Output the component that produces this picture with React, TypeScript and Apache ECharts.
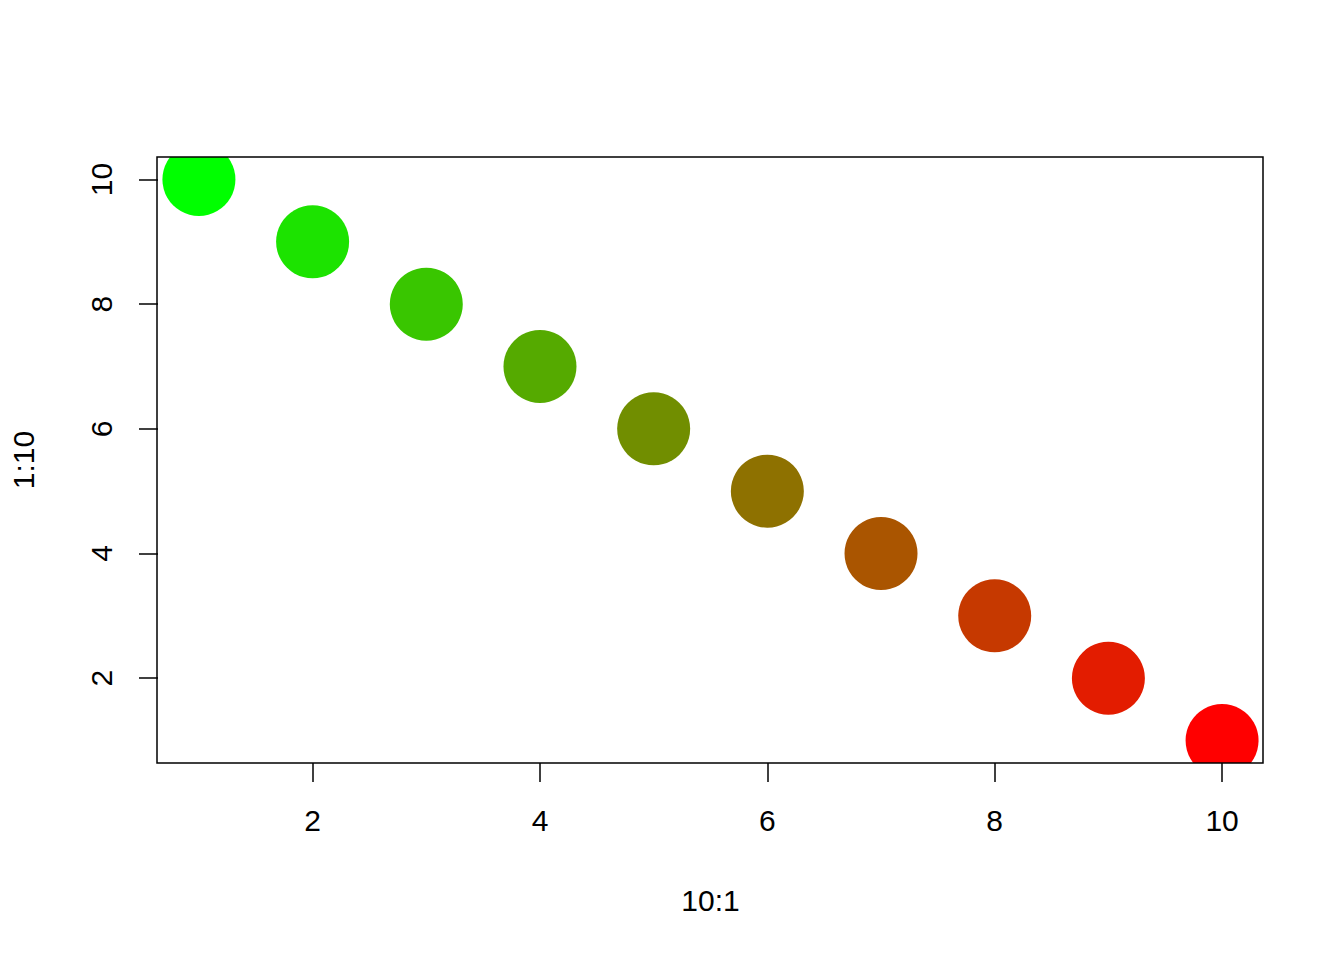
import React, { useEffect, useRef } from "react";
import * as echarts from "echarts";

const xValues = [1, 2, 3, 4, 5, 6, 7, 8, 9, 10];
const yValues = [10, 9, 8, 7, 6, 5, 4, 3, 2, 1];
const pointColors = [
  "#00FF00", "#1CE300", "#39C600", "#55AA00", "#718E00",
  "#8E7100", "#AA5500", "#C63900", "#E31C00", "#FF0000",
];
const xTicks = [2, 4, 6, 8, 10];
const yTicks = [2, 4, 6, 8, 10];
const xTitle = "10:1";
const yTitle = "1:10";

const FONT = "'Liberation Sans', Arial, Helvetica, sans-serif";
const GRID = { left: 157, top: 157, width: 1106, height: 606 };

export default function App() {
  const ref = useRef<HTMLDivElement>(null);
  useEffect(() => {
    if (!ref.current) return;
    const chart = echarts.init(ref.current, undefined, { renderer: "svg" });
    const data = xValues.map((x, i) => [x, yValues[i]]);
    chart.setOption({
      animation: false,
      backgroundColor: "#ffffff",
      grid: { ...GRID, show: false },
      graphic: [
        {
          type: "rect",
          z: 100,
          silent: true,
          shape: { x: GRID.left, y: GRID.top, width: GRID.width, height: GRID.height },
          style: { fill: "none", stroke: "#000", lineWidth: 1.5 },
        },
      ],
      xAxis: {
        type: "value",
        min: 0.64,
        max: 10.36,
        name: xTitle,
        nameLocation: "middle",
        nameGap: 122,
        nameTextStyle: { fontFamily: FONT, fontSize: 30, color: "#000" },
        axisLine: { show: false },
        splitLine: { show: false },
        axisTick: {
          show: true,
          length: 19,
          customValues: xTicks,
          lineStyle: { color: "#000", width: 1.5 },
        },
        axisLabel: {
          customValues: xTicks,
          margin: 42,
          fontFamily: FONT,
          fontSize: 30,
          color: "#000",
        },
      },
      yAxis: {
        type: "value",
        min: 0.64,
        max: 10.36,
        name: yTitle,
        nameLocation: "middle",
        nameGap: 120,
        nameRotate: 90,
        nameTextStyle: { fontFamily: FONT, fontSize: 30, color: "#000" },
        axisLine: { show: false },
        splitLine: { show: false },
        axisTick: {
          show: true,
          length: 19,
          customValues: yTicks,
          lineStyle: { color: "#000", width: 1.5 },
        },
        axisLabel: {
          customValues: yTicks,
          rotate: 90,
          margin: 42,
          fontFamily: FONT,
          fontSize: 30,
          color: "#000",
        },
      },
      series: [
        {
          type: "custom",
          clip: true,
          encode: { x: 0, y: 1 },
          data,
          renderItem: (params: any, api: any) => {
            const p = api.coord([api.value(0), api.value(1)]);
            return {
              type: "circle",
              shape: { cx: p[0], cy: p[1], r: 36.5 },
              style: { fill: pointColors[params.dataIndex], opacity: 1 },
            };
          },
        },
      ],
    });
    return () => chart.dispose();
  }, []);
  return (
    <div
      ref={ref}
      style={{ position: "absolute", left: 0, top: 0, width: 1344, height: 960 }}
    />
  );
}
